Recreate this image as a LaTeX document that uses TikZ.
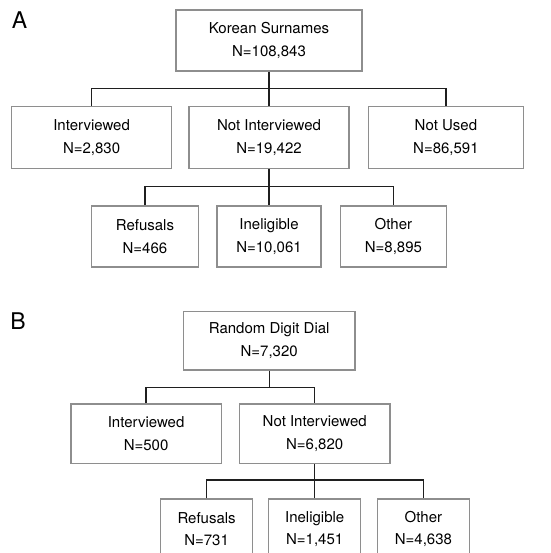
\documentclass[tikz,border=0pt]{standalone}
\usepackage{fontspec}
\setmainfont{TeX Gyre Heros}
\usetikzlibrary{positioning}
\definecolor{boxgray}{HTML}{8E8E8E}
\tikzstyle{stage} = [draw=boxgray,line width=1.4pt,inner sep=0,align=center,font=\fontsize{15}{22.4}\selectfont]
\tikzstyle{link} = [-,line width=1.3pt,draw=black!88]
\tikzstyle{panel} = [inner sep=0,font=\fontsize{23}{23}\selectfont]
\def \gap {18pt}

\begin{document}
\begin{tikzpicture}[x=1pt,y=-1pt]
  \useasboundingbox (0,0) rectangle (550,553);
  % A
  \node[panel] (labA) at (19.5,20.5) {A};
  \node[stage,minimum width=186pt,minimum height=61pt] (korean) at (269,40.5) {Korean Surnames\\N=108,843};
  \node[stage,minimum width=160pt,minimum height=62pt,below=34.3pt of korean] (notA) {Not Interviewed\\N=19,422};
  \node[stage,minimum width=160pt,minimum height=62pt,left=16pt of notA] (intA) {Interviewed\\N=2,830};
  \node[stage,minimum width=155pt,minimum height=62pt,right=\gap of notA] (usedA) {Not Used\\N=86,591};
  \node[stage,minimum width=104pt,minimum height=61.3pt,below=35.7pt of notA] (ineA) {Ineligible\\N=10,061};
  \node[stage,minimum width=106.7pt,minimum height=61.3pt,left=17.3pt of ineA] (refA) {Refusals\\N=466};
  \node[stage,minimum width=106pt,minimum height=61.3pt,right=\gap of ineA] (othA) {Other\\N=8,895};
  \coordinate (barA) at (0,88.3);
  \coordinate (subA) at (0,186.5);
  \draw[link] (korean.south) -- (notA.north);
  \draw[link] (intA.north) |- (barA -| usedA.north) -- (usedA.north);
  \draw[link] (notA.south) -- (ineA.north);
  \draw[link] (refA.north) |- (subA -| othA.north) -- (othA.north);
  % B
  \node[panel] (labB) at (18,321.5) {B};
  \node[stage,minimum width=171.7pt,minimum height=58.3pt] (rdd) at (269.2,340.8) {Random Digit Dial\\N=7,320};
  \node[stage,minimum width=150.7pt,minimum height=59.5pt] (notB) at (314.7,433.8) {Not Interviewed\\N=6,820};
  \node[stage,minimum width=150.3pt,minimum height=59.5pt,left=16.7pt of notB] (intB) {Interviewed\\N=500};
  \node[stage,minimum width=92pt,minimum height=60pt,below=34.2pt of notB] (ineB) {Ineligible\\N=1,451};
  \node[stage,minimum width=92pt,minimum height=60pt,left=14.7pt of ineB] (refB) {Refusals\\N=731};
  \node[stage,minimum width=92pt,minimum height=60pt,right=15.3pt of ineB] (othB) {Other\\N=4,638};
  \coordinate (barB) at (0,387.5);
  \coordinate (subB) at (0,480);
  \draw[link] (rdd.south) -- (rdd.south |- barB);
  \draw[link] (intB.north) |- (barB -| notB.north) -- (notB.north);
  \draw[link] (notB.south) -- (ineB.north);
  \draw[link] (refB.north) |- (subB -| othB.north) -- (othB.north);
\end{tikzpicture}
\end{document}
